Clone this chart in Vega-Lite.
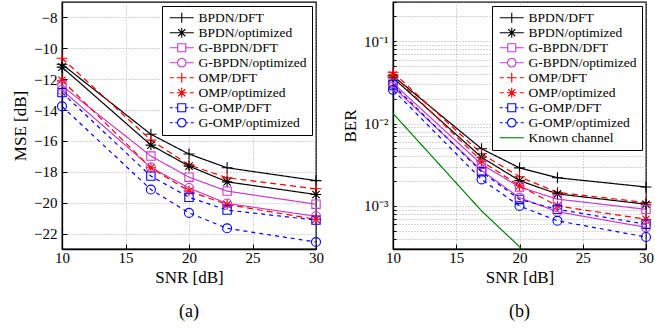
{
  "$schema": "https://vega.github.io/schema/vega-lite/v6.json",
  "padding": {"left": 10, "top": 0, "right": 4, "bottom": 2},
  "spacing": 15,
  "config": {
    "font": "Liberation Serif",
    "view": {"stroke": "black", "strokeWidth": 1.3},
    "axis": {
      "labelFont": "Liberation Serif", "labelFontSize": 15, "labelColor": "black",
      "titleFont": "Liberation Serif", "titleFontSize": 17, "titleFontWeight": "normal", "titleColor": "black",
      "domainColor": "black", "domainWidth": 1.3, "tickColor": "black", "tickSize": -5,
      "grid": true, "gridColor": "#999999", "gridDash": [1, 2], "gridOpacity": 1, "gridWidth": 0.8,
      "labelFlush": false
    },
    "axisX": {"labelPadding": 6, "titlePadding": 4},
    "axisY": {"labelPadding": 10, "titlePadding": 4},
    "legend": {
      "orient": "top-right", "offset": 4, "strokeColor": "black", "fillColor": "white",
      "padding": 5, "cornerRadius": 0, "labelFont": "Liberation Serif", "labelFontSize": 13.5,
      "labelColor": "black", "symbolSize": 100, "symbolStrokeWidth": 1.1, "rowPadding": 0,
      "labelOffset": 10, "symbolOffset": 8, "labelLimit": 300
    },
    "title": {"font": "Liberation Serif", "fontSize": 18, "fontWeight": "normal", "color": "black", "orient": "bottom", "offset": 18}
  },
  "resolve": {
    "scale": {"color": "independent", "stroke": "independent", "shape": "independent", "strokeDash": "independent"},
    "legend": {"color": "independent", "shape": "independent"}
  },
  "datasets": {
    "mse": [
      {"series": "BPDN/DFT", "snr": 10, "mse": -11.03}, {"series": "BPDN/DFT", "snr": 17, "mse": -15.57}, {"series": "BPDN/DFT", "snr": 20, "mse": -16.85}, {"series": "BPDN/DFT", "snr": 23, "mse": -17.74}, {"series": "BPDN/DFT", "snr": 30, "mse": -18.57},
      {"series": "BPDN/optimized", "snr": 10, "mse": -11.22}, {"series": "BPDN/optimized", "snr": 17, "mse": -16.27}, {"series": "BPDN/optimized", "snr": 20, "mse": -17.63}, {"series": "BPDN/optimized", "snr": 23, "mse": -18.65}, {"series": "BPDN/optimized", "snr": 30, "mse": -19.47},
      {"series": "G-BPDN/DFT", "snr": 10, "mse": -12.43}, {"series": "G-BPDN/DFT", "snr": 17, "mse": -16.98}, {"series": "G-BPDN/DFT", "snr": 20, "mse": -18.35}, {"series": "G-BPDN/DFT", "snr": 23, "mse": -19.25}, {"series": "G-BPDN/DFT", "snr": 30, "mse": -20.1},
      {"series": "G-BPDN/optimized", "snr": 10, "mse": -12.7}, {"series": "G-BPDN/optimized", "snr": 17, "mse": -17.72}, {"series": "G-BPDN/optimized", "snr": 20, "mse": -19.05}, {"series": "G-BPDN/optimized", "snr": 23, "mse": -20.05}, {"series": "G-BPDN/optimized", "snr": 30, "mse": -20.88},
      {"series": "OMP/DFT", "snr": 10, "mse": -10.64}, {"series": "OMP/DFT", "snr": 17, "mse": -15.95}, {"series": "OMP/DFT", "snr": 20, "mse": -17.55}, {"series": "OMP/DFT", "snr": 23, "mse": -18.39}, {"series": "OMP/DFT", "snr": 30, "mse": -19.1},
      {"series": "OMP/optimized", "snr": 10, "mse": -12.07}, {"series": "OMP/optimized", "snr": 17, "mse": -17.74}, {"series": "OMP/optimized", "snr": 20, "mse": -19.25}, {"series": "OMP/optimized", "snr": 23, "mse": -20.12}, {"series": "OMP/optimized", "snr": 30, "mse": -21.08},
      {"series": "G-OMP/DFT", "snr": 10, "mse": -12.87}, {"series": "G-OMP/DFT", "snr": 17, "mse": -18.28}, {"series": "G-OMP/DFT", "snr": 20, "mse": -19.65}, {"series": "G-OMP/DFT", "snr": 23, "mse": -20.48}, {"series": "G-OMP/DFT", "snr": 30, "mse": -21.13},
      {"series": "G-OMP/optimized", "snr": 10, "mse": -13.76}, {"series": "G-OMP/optimized", "snr": 17, "mse": -19.15}, {"series": "G-OMP/optimized", "snr": 20, "mse": -20.66}, {"series": "G-OMP/optimized", "snr": 23, "mse": -21.66}, {"series": "G-OMP/optimized", "snr": 30, "mse": -22.55}
    ],
    "ber": [
      {"series": "BPDN/DFT", "snr": 10, "ber": 0.038}, {"series": "BPDN/DFT", "snr": 17, "ber": 0.00495}, {"series": "BPDN/DFT", "snr": 20, "ber": 0.0029}, {"series": "BPDN/DFT", "snr": 23, "ber": 0.0022}, {"series": "BPDN/DFT", "snr": 30, "ber": 0.0017},
      {"series": "BPDN/optimized", "snr": 10, "ber": 0.036}, {"series": "BPDN/optimized", "snr": 17, "ber": 0.0039}, {"series": "BPDN/optimized", "snr": 20, "ber": 0.00203}, {"series": "BPDN/optimized", "snr": 23, "ber": 0.0014}, {"series": "BPDN/optimized", "snr": 30, "ber": 0.00105},
      {"series": "G-BPDN/DFT", "snr": 10, "ber": 0.031}, {"series": "G-BPDN/DFT", "snr": 17, "ber": 0.0032}, {"series": "G-BPDN/DFT", "snr": 20, "ber": 0.0017}, {"series": "G-BPDN/DFT", "snr": 23, "ber": 0.00121}, {"series": "G-BPDN/DFT", "snr": 30, "ber": 0.00091},
      {"series": "G-BPDN/optimized", "snr": 10, "ber": 0.028}, {"series": "G-BPDN/optimized", "snr": 17, "ber": 0.0027}, {"series": "G-BPDN/optimized", "snr": 20, "ber": 0.00126}, {"series": "G-BPDN/optimized", "snr": 23, "ber": 0.00085}, {"series": "G-BPDN/optimized", "snr": 30, "ber": 0.00055},
      {"series": "OMP/DFT", "snr": 10, "ber": 0.042}, {"series": "OMP/DFT", "snr": 17, "ber": 0.0043}, {"series": "OMP/DFT", "snr": 20, "ber": 0.00226}, {"series": "OMP/DFT", "snr": 23, "ber": 0.00146}, {"series": "OMP/DFT", "snr": 30, "ber": 0.0011},
      {"series": "OMP/optimized", "snr": 10, "ber": 0.039}, {"series": "OMP/optimized", "snr": 17, "ber": 0.0035}, {"series": "OMP/optimized", "snr": 20, "ber": 0.00176}, {"series": "OMP/optimized", "snr": 23, "ber": 0.001}, {"series": "OMP/optimized", "snr": 30, "ber": 0.00069},
      {"series": "G-OMP/DFT", "snr": 10, "ber": 0.0295}, {"series": "G-OMP/DFT", "snr": 17, "ber": 0.0026}, {"series": "G-OMP/DFT", "snr": 20, "ber": 0.0012}, {"series": "G-OMP/DFT", "snr": 23, "ber": 0.00091}, {"series": "G-OMP/DFT", "snr": 30, "ber": 0.0006},
      {"series": "G-OMP/optimized", "snr": 10, "ber": 0.0257}, {"series": "G-OMP/optimized", "snr": 17, "ber": 0.0021}, {"series": "G-OMP/optimized", "snr": 20, "ber": 0.001}, {"series": "G-OMP/optimized", "snr": 23, "ber": 0.00066}, {"series": "G-OMP/optimized", "snr": 30, "ber": 0.00042},
      {"series": "Known channel", "snr": 10, "ber": 0.0133}, {"series": "Known channel", "snr": 17, "ber": 0.00087}, {"series": "Known channel", "snr": 20, "ber": 0.00032}, {"series": "Known channel", "snr": 23, "ber": 0.00012}
    ]
  },
  "hconcat": [
    {
      "width": 254, "height": 247,
      "title": "(a)",
      "data": {"name": "mse"},
      "encoding": {
        "x": {"field": "snr", "type": "quantitative", "title": "SNR [dB]", "scale": {"domain": [10, 30], "nice": false}, "axis": {"values": [10, 15, 20, 25, 30]}},
        "y": {"field": "mse", "type": "quantitative", "title": "MSE [dB]", "scale": {"domain": [-23, -7], "nice": false, "zero": false}, "axis": {"values": [-22, -20, -18, -16, -14, -12, -10, -8]}}
      },
      "layer": [
        {
          "mark": {"type": "line", "strokeWidth": 1.2},
          "encoding": {
            "stroke": {"field": "series", "type": "nominal", "legend": null,
              "scale": {"domain": ["OMP/DFT", "OMP/optimized", "G-OMP/DFT", "G-OMP/optimized", "BPDN/DFT", "BPDN/optimized", "G-BPDN/DFT", "G-BPDN/optimized"],
                        "range": ["#ff0000", "#ff0000", "#0000ff", "#0000ff", "#000000", "#000000", "#c83cc8", "#c83cc8"]}},
            "strokeDash": {"field": "series", "type": "nominal", "legend": null,
              "scale": {"domain": ["OMP/DFT", "OMP/optimized", "G-OMP/DFT", "G-OMP/optimized", "BPDN/DFT", "BPDN/optimized", "G-BPDN/DFT", "G-BPDN/optimized"],
                        "range": [[6, 4], [6, 4], [4, 4], [4, 4], [1, 0], [1, 0], [1, 0], [1, 0]]}}
          }
        },
        {
          "transform": [{"filter": {"field": "series", "oneOf": ["BPDN/DFT", "OMP/DFT"]}}],
          "mark": {"type": "point", "shape": "M-1,0H1M0,-1V1", "size": 120, "filled": false, "strokeWidth": 1.1, "opacity": 1},
          "encoding": {"stroke": {"field": "series", "type": "nominal", "legend": null}}
        },
        {
          "transform": [{"filter": {"field": "series", "oneOf": ["BPDN/optimized", "OMP/optimized"]}}],
          "mark": {"type": "point", "shape": "M-1,0H1M0,-1V1M-0.7,-0.7L0.7,0.7M-0.7,0.7L0.7,-0.7", "size": 110, "filled": false, "strokeWidth": 1.1, "opacity": 1},
          "encoding": {"stroke": {"field": "series", "type": "nominal", "legend": null}}
        },
        {
          "transform": [{"filter": {"field": "series", "oneOf": ["G-BPDN/DFT", "G-OMP/DFT"]}}],
          "mark": {"type": "point", "shape": "square", "size": 70, "filled": false, "strokeWidth": 1.1, "opacity": 1},
          "encoding": {"stroke": {"field": "series", "type": "nominal", "legend": null}}
        },
        {
          "transform": [{"filter": {"field": "series", "oneOf": ["G-BPDN/optimized", "G-OMP/optimized"]}}],
          "mark": {"type": "point", "shape": "circle", "size": 80, "filled": false, "strokeWidth": 1.1, "opacity": 1},
          "encoding": {"stroke": {"field": "series", "type": "nominal", "legend": null}}
        },
        {
          "mark": {"type": "point", "filled": false, "opacity": 0},
          "encoding": {
            "color": {"field": "series", "type": "nominal", "legend": {"title": null},
              "scale": {"domain": ["BPDN/DFT", "BPDN/optimized", "G-BPDN/DFT", "G-BPDN/optimized", "OMP/DFT", "OMP/optimized", "G-OMP/DFT", "G-OMP/optimized"],
                        "range": ["#000000", "#000000", "#c83cc8", "#c83cc8", "#ff0000", "#ff0000", "#0000ff", "#0000ff"]}},
            "shape": {"field": "series", "type": "nominal", "legend": {"title": null},
              "scale": {"domain": ["BPDN/DFT", "BPDN/optimized", "G-BPDN/DFT", "G-BPDN/optimized", "OMP/DFT", "OMP/optimized", "G-OMP/DFT", "G-OMP/optimized"],
                "range": [
                  "M-2.4,0H2.4M0,-1V1",
                  "M-2.4,0H2.4M0,-1V1M-0.7,-0.7L0.7,0.7M-0.7,0.7L0.7,-0.7",
                  "M-2.4,0H-0.8M0.8,0H2.4M-0.8,-0.8H0.8V0.8H-0.8Z",
                  "M-2.4,0H-0.85M0.85,0H2.4M-0.85,0A0.85,0.85,0,1,0,0.85,0A0.85,0.85,0,1,0,-0.85,0",
                  "M-2.4,0H-1.6M-1,0H1M1.6,0H2.4M0,-1V1",
                  "M-2.4,0H-1.6M-1,0H1M1.6,0H2.4M0,-1V1M-0.7,-0.7L0.7,0.7M-0.7,0.7L0.7,-0.7",
                  "M-2.4,0H-1.8M-1.3,0H-0.8M0.8,0H1.3M1.8,0H2.4M-0.8,-0.8H0.8V0.8H-0.8Z",
                  "M-2.4,0H-1.8M-1.3,0H-0.85M0.85,0H1.3M1.8,0H2.4M-0.85,0A0.85,0.85,0,1,0,0.85,0A0.85,0.85,0,1,0,-0.85,0"
                ]}}
          }
        }
      ]
    },
    {
      "width": 253, "height": 247,
      "title": "(b)",
      "data": {"name": "ber"},
      "encoding": {
        "x": {"field": "snr", "type": "quantitative", "title": "SNR [dB]", "scale": {"domain": [10, 30], "nice": false}, "axis": {"values": [10, 15, 20, 25, 30]}},
        "y": {"field": "ber", "type": "quantitative", "title": "BER", "scale": {"type": "log", "domain": [0.0003, 0.3], "nice": false},
          "axis": {"values": [0.0003, 0.0004, 0.0005, 0.0006, 0.0007, 0.0008, 0.0009, 0.001, 0.002, 0.003, 0.004, 0.005, 0.006, 0.007, 0.008, 0.009, 0.01, 0.02, 0.03, 0.04, 0.05, 0.06, 0.07, 0.08, 0.09, 0.1, 0.2, 0.3],
            "labelExpr": "datum.value == 0.1 ? '10⁻¹' : datum.value == 0.01 ? '10⁻²' : datum.value == 0.001 ? '10⁻³' : ''", "tickSize": -3, "labelPadding": 8}}
      },
      "layer": [
        {
          "mark": {"type": "line", "strokeWidth": 1.2, "clip": true},
          "encoding": {
            "stroke": {"field": "series", "type": "nominal", "legend": null,
              "scale": {"domain": ["Known channel", "OMP/DFT", "OMP/optimized", "G-OMP/DFT", "G-OMP/optimized", "BPDN/DFT", "BPDN/optimized", "G-BPDN/DFT", "G-BPDN/optimized"],
                        "range": ["#008000", "#ff0000", "#ff0000", "#0000ff", "#0000ff", "#000000", "#000000", "#c83cc8", "#c83cc8"]}},
            "strokeDash": {"field": "series", "type": "nominal", "legend": null,
              "scale": {"domain": ["Known channel", "OMP/DFT", "OMP/optimized", "G-OMP/DFT", "G-OMP/optimized", "BPDN/DFT", "BPDN/optimized", "G-BPDN/DFT", "G-BPDN/optimized"],
                        "range": [[1, 0], [6, 4], [6, 4], [4, 4], [4, 4], [1, 0], [1, 0], [1, 0], [1, 0]]}},
            "strokeWidth": {"condition": {"test": "datum.series == 'Known channel'", "value": 1.8}, "value": 1.2}
          }
        },
        {
          "transform": [{"filter": {"field": "series", "oneOf": ["BPDN/DFT", "OMP/DFT"]}}],
          "mark": {"type": "point", "shape": "M-1,0H1M0,-1V1", "size": 120, "filled": false, "strokeWidth": 1.1, "opacity": 1},
          "encoding": {"stroke": {"field": "series", "type": "nominal", "legend": null}}
        },
        {
          "transform": [{"filter": {"field": "series", "oneOf": ["BPDN/optimized", "OMP/optimized"]}}],
          "mark": {"type": "point", "shape": "M-1,0H1M0,-1V1M-0.7,-0.7L0.7,0.7M-0.7,0.7L0.7,-0.7", "size": 110, "filled": false, "strokeWidth": 1.1, "opacity": 1},
          "encoding": {"stroke": {"field": "series", "type": "nominal", "legend": null}}
        },
        {
          "transform": [{"filter": {"field": "series", "oneOf": ["G-BPDN/DFT", "G-OMP/DFT"]}}],
          "mark": {"type": "point", "shape": "square", "size": 70, "filled": false, "strokeWidth": 1.1, "opacity": 1},
          "encoding": {"stroke": {"field": "series", "type": "nominal", "legend": null}}
        },
        {
          "transform": [{"filter": {"field": "series", "oneOf": ["G-BPDN/optimized", "G-OMP/optimized"]}}],
          "mark": {"type": "point", "shape": "circle", "size": 80, "filled": false, "strokeWidth": 1.1, "opacity": 1},
          "encoding": {"stroke": {"field": "series", "type": "nominal", "legend": null}}
        },
        {
          "mark": {"type": "point", "filled": false, "opacity": 0},
          "encoding": {
            "color": {"field": "series", "type": "nominal", "legend": {"title": null},
              "scale": {"domain": ["BPDN/DFT", "BPDN/optimized", "G-BPDN/DFT", "G-BPDN/optimized", "OMP/DFT", "OMP/optimized", "G-OMP/DFT", "G-OMP/optimized", "Known channel"],
                        "range": ["#000000", "#000000", "#c83cc8", "#c83cc8", "#ff0000", "#ff0000", "#0000ff", "#0000ff", "#008000"]}},
            "shape": {"field": "series", "type": "nominal", "legend": {"title": null},
              "scale": {"domain": ["BPDN/DFT", "BPDN/optimized", "G-BPDN/DFT", "G-BPDN/optimized", "OMP/DFT", "OMP/optimized", "G-OMP/DFT", "G-OMP/optimized", "Known channel"],
                "range": [
                  "M-2.4,0H2.4M0,-1V1",
                  "M-2.4,0H2.4M0,-1V1M-0.7,-0.7L0.7,0.7M-0.7,0.7L0.7,-0.7",
                  "M-2.4,0H-0.8M0.8,0H2.4M-0.8,-0.8H0.8V0.8H-0.8Z",
                  "M-2.4,0H-0.85M0.85,0H2.4M-0.85,0A0.85,0.85,0,1,0,0.85,0A0.85,0.85,0,1,0,-0.85,0",
                  "M-2.4,0H-1.6M-1,0H1M1.6,0H2.4M0,-1V1",
                  "M-2.4,0H-1.6M-1,0H1M1.6,0H2.4M0,-1V1M-0.7,-0.7L0.7,0.7M-0.7,0.7L0.7,-0.7",
                  "M-2.4,0H-1.8M-1.3,0H-0.8M0.8,0H1.3M1.8,0H2.4M-0.8,-0.8H0.8V0.8H-0.8Z",
                  "M-2.4,0H-1.8M-1.3,0H-0.85M0.85,0H1.3M1.8,0H2.4M-0.85,0A0.85,0.85,0,1,0,0.85,0A0.85,0.85,0,1,0,-0.85,0",
                  "M-2.4,0H2.4"
                ]}}
          }
        }
      ]
    }
  ]
}
